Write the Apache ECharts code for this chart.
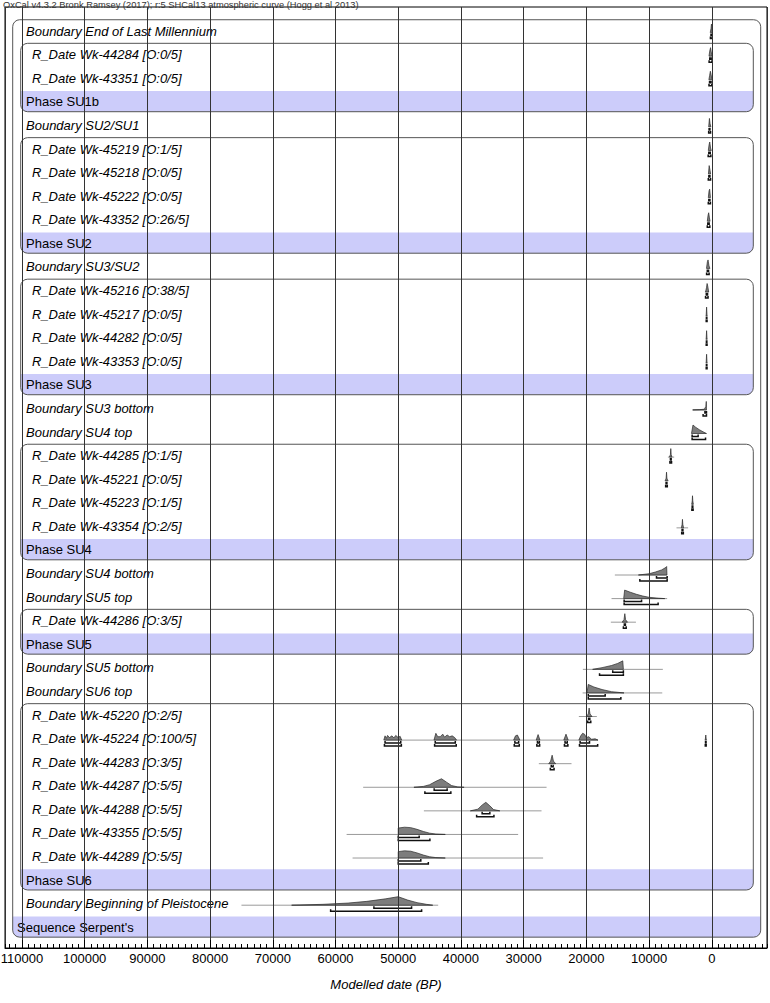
<!DOCTYPE html>
<html><head><meta charset="utf-8">
<script src="https://cdn.jsdelivr.net/npm/echarts@6/dist/echarts.min.js"></script>
<style>html,body{margin:0;padding:0;background:#fff}#c{width:770px;height:1003px}</style>
</head><body><div id="c"></div>
<script>
const FONT = 'Liberation Sans, Arial, Helvetica, sans-serif';
const chartTitle = 'OxCal v4.3.2 Bronk Ramsey (2017); r:5 SHCal13 atmospheric curve (Hogg et al 2013)';
const axisTitle = 'Modelled date (BP)';
const tickLabels = ['110000','100000','90000','80000','70000','60000','50000','40000','30000','20000','10000','0'];

const rowTypes = ['Boundary','R_Date','R_Date','Phase','Boundary','R_Date','R_Date','R_Date','R_Date','Phase',
  'Boundary','R_Date','R_Date','R_Date','R_Date','Phase','Boundary','Boundary','R_Date','R_Date','R_Date','R_Date','Phase',
  'Boundary','Boundary','R_Date','Phase','Boundary','Boundary','R_Date','R_Date','R_Date','R_Date','R_Date','R_Date','R_Date',
  'Phase','Boundary','Sequence'];
const rowNames = ['End of Last Millennium','Wk-44284 [O:0/5]','Wk-43351 [O:0/5]','SU1b','SU2/SU1','Wk-45219 [O:1/5]',
  'Wk-45218 [O:0/5]','Wk-45222 [O:0/5]','Wk-43352 [O:26/5]','SU2','SU3/SU2','Wk-45216 [O:38/5]','Wk-45217 [O:0/5]',
  'Wk-44282 [O:0/5]','Wk-43353 [O:0/5]','SU3','SU3 bottom','SU4 top','Wk-44285 [O:1/5]','Wk-45221 [O:0/5]',
  'Wk-45223 [O:1/5]','Wk-43354 [O:2/5]','SU4','SU4 bottom','SU5 top','Wk-44286 [O:3/5]','SU5','SU5 bottom','SU6 top',
  'Wk-45220 [O:2/5]','Wk-45224 [O:100/5]','Wk-44283 [O:3/5]','Wk-44287 [O:5/5]','Wk-44288 [O:5/5]','Wk-43355 [O:5/5]',
  'Wk-44289 [O:5/5]','SU6','Beginning of Pleistocene',"Serpent's"];

// rounded group boxes: [first row, last row]
const phaseBoxes = [[1,3],[5,9],[11,15],[18,22],[25,26],[29,36]];
const sequenceBoxes = [[0,38]];

// likelihood / prior extent lines: [row, from BP, to BP]
const likelihoodLines = [[11,1100,500],[12,1000,650],[13,1000,650],[14,1000,650],[16,3050,850],
  [18,7000,6000],[19,7500,6900],[20,3240,2920],[21,5630,3780],[23,15460,7170],[24,15990,7120],
  [25,16100,12100],[27,20560,7810],[28,20600,7900],[29,21200,18330],[30,52130,18130],[30,1150,750],
  [31,27580,22370],[32,55590,26350],[33,45910,27150],[34,58230,30880],[35,57280,26900],[37,75000,43630]];

// posterior distributions: row and [BP, relative probability] points
const postRows = [0,1,2,4,5,6,7,8,10,11,12,13,14,16,17,18,19,20,21,23,24,25,27,28,29,30,30,30,30,30,30,30,31,32,33,34,35,37];
const postPoints = [
  [[250,0],[120,0.5],[60,1],[0,0.7],[-60,0]],
  [[450,0],[330,0.6],[200,1],[90,0.5],[-40,0]],
  [[470,0],[350,0.5],[230,1],[110,0.6],[-20,0]],
  [[500,0],[380,1],[280,0.4],[150,0]],
  [[560,0],[430,0.7],[330,1],[200,0.3],[80,0]],
  [[540,0],[420,1],[320,0.6],[190,0]],
  [[560,0],[440,0.8],[340,1],[220,0]],
  [[720,0],[600,0.7],[500,1],[380,0.4],[280,0]],
  [[850,0],[700,0.8],[600,1],[450,0.3],[300,0]],
  [[1000,0],[850,0.5],[750,1],[650,0.7],[500,0]],
  [[900,0],[830,1],[760,0]],
  [[900,0],[830,1],[760,0]],
  [[900,0],[830,1],[760,0]],
  [[3050,0],[2000,0.03],[1200,0.08],[950,0.4],[880,1],[850,0]],
  [[3240,0],[3000,1],[2600,0.75],[2000,0.45],[1400,0.2],[850,0]],
  [[6750,0],[6600,0.3],[6540,1],[6480,0.3],[6350,0]],
  [[7420,0],[7280,0.3],[7220,1],[7160,0.3],[7020,0]],
  [[3200,0],[3120,0.4],[3080,1],[3030,0.4],[2950,0]],
  [[4850,0],[4740,0.4],[4680,1],[4620,0.4],[4500,0]],
  [[11700,0],[10000,0.15],[9000,0.35],[8000,0.6],[7300,0.9],[7200,1],[7150,0]],
  [[14050,0],[13900,1],[13000,0.75],[12000,0.5],[11000,0.3],[10000,0.15],[8500,0.05],[7500,0]],
  [[14300,0],[14000,0.3],[13870,1],[13750,0.3],[13450,0]],
  [[19000,0],[17500,0.2],[16000,0.45],[15000,0.7],[14200,1],[14100,0]],
  [[19900,0],[19700,1],[18800,0.7],[17500,0.4],[16000,0.15],[14000,0]],
  [[20000,0],[19700,0.3],[19560,1],[19420,0.3],[19100,0]],
  [[52300,0],[52100,0.5],[51900,0.2],[51700,0.55],[51400,0.3],[51000,0.5],[50700,0.25],[50400,0.55],[50000,0.3],[49700,0.45],[49450,0]],
  [[44300,0],[44000,0.8],[43700,0.4],[43300,0.4],[42900,0.7],[42600,0.35],[42200,0.6],[41800,0.4],[41400,0.5],[41000,0.3],[40700,0]],
  [[31600,0],[31300,0.5],[31000,0.6],[30600,0]],
  [[28000,0],[27700,0.65],[27400,0]],
  [[23600,0],[23250,0.7],[22900,0]],
  [[21200,0],[20900,0.5],[20600,0.8],[20300,0.7],[20000,0.3],[19600,0.4],[19200,0.1],[18600,0.15],[18150,0]],
  [[1050,0],[960,0.6],[880,0]],
  [[26000,0],[25700,0.3],[25460,1],[25250,0.3],[24900,0]],
  [[47500,0],[46000,0.1],[45000,0.3],[44000,0.7],[43100,1],[42300,0.6],[41500,0.2],[40500,0.04],[39500,0]],
  [[38500,0],[37300,0.2],[36600,0.7],[36030,1],[35400,0.6],[34800,0.15],[33800,0]],
  [[50000,0],[50000,0.75],[49000,0.85],[48000,0.8],[47000,0.6],[46000,0.35],[45000,0.15],[44000,0.05],[42500,0]],
  [[50000,0],[50000,0.75],[49000,0.85],[48000,0.8],[47000,0.6],[46000,0.35],[45000,0.15],[44000,0.05],[42500,0]],
  [[67000,0],[62000,0.1],[58000,0.25],[55000,0.45],[52000,0.75],[50000,1],[48500,0.6],[47000,0.3],[45500,0.1],[44500,0]]
];

// highest posterior density ranges: [row, from BP, to BP]
const range68 = [[0,130,-20],[1,330,100],[2,360,120],[4,430,300],[5,480,250],[6,470,300],[7,480,300],[8,640,420],
  [10,720,520],[11,880,680],[12,860,790],[13,860,790],[14,860,790],[16,1100,850],[17,3140,2180],
  [18,6600,6480],[19,7290,7160],[20,3130,3030],[21,4740,4610],[23,8820,7120],[24,13980,11200],[25,13950,13780],
  [27,15800,14100],[28,19700,17000],[29,19650,19450],
  [30,52100,49600],[30,44100,40900],[30,31400,30800],[30,27800,27500],[30,23400,23050],[30,21000,19500],[30,1000,920],
  [31,25600,25300],[32,44270,42200],[33,36620,35390],[34,50000,46660],[35,50000,46400],[37,53880,47870]];
const range95 = [[0,220,-55],[1,430,-20],[2,450,0],[4,500,200],[5,580,150],[6,560,200],[7,560,220],[8,720,320],
  [10,830,430],[11,1000,600],[12,890,760],[13,890,760],[14,890,760],[16,1390,850],[17,3140,1000],
  [18,6680,6420],[19,7360,7100],[20,3180,2980],[21,4800,4540],[23,11480,7120],[24,13980,8560],[25,14100,13650],
  [27,17900,14100],[28,19700,14500],[29,19800,19300],
  [30,52200,49500],[30,44200,40750],[30,31500,30700],[30,27900,27450],[30,23500,22950],[30,21100,18200],[30,1040,900],
  [31,25750,25150],[32,45750,41610],[33,37500,34740],[34,50000,44950],[35,50000,45200],[37,60780,46270]];

const chart = echarts.init(document.getElementById('c'), null, {renderer: 'svg'});
const H = 8.5;      // px height of a full-probability peak
const BASE = 2;     // baseline offset below row centre (px)

function rowH(api) { return Math.abs(api.size([0, 1])[1]); }

function boxRender(spans, padL, padR, fill) {
  return function (params, api) {
    const cs = params.coordSys;
    const s = spans[params.dataIndex];
    const rh = rowH(api);
    const x1 = cs.x + padL, x2 = cs.x + cs.width - padR;
    const yTop = api.coord([0, s[0]])[1] - 0.46 * rh;
    const yBandTop = api.coord([0, s[1]])[1] - 0.44 * rh;
    const yBot = api.coord([0, s[1]])[1] + 0.44 * rh;
    return {
      type: 'group',
      children: [
        {type: 'rect', shape: {x: x1, y: yBandTop, width: x2 - x1, height: yBot - yBandTop, r: [0, 0, 7, 7]},
         style: {fill: fill}},
        {type: 'rect', shape: {x: x1, y: yTop, width: x2 - x1, height: yBot - yTop, r: 7},
         style: {fill: 'none', stroke: '#555', lineWidth: 1}}
      ]
    };
  };
}

function labelRender(params, api) {
  const cs = params.coordSys;
  const i = params.dataIndex;
  const t = rowTypes[i];
  const y = api.coord([0, i])[1];
  const off = {Boundary: 21, R_Date: 27, Phase: 21, Sequence: 12}[t];
  const italic = (t === 'Boundary' || t === 'R_Date');
  return {
    type: 'text',
    style: {text: t + ' ' + rowNames[i], x: cs.x + off, y: y + 0.5, fill: '#000',
      font: (italic ? 'italic ' : '') + '13px ' + FONT, verticalAlign: 'middle', align: 'left'}
  };
}

function lineRender(params, api) {
  const r = api.value(0);
  const a = api.coord([api.value(1), r]);
  const b = api.coord([api.value(2), r]);
  return {type: 'line', shape: {x1: a[0], y1: a[1] + BASE, x2: b[0], y2: b[1] + BASE},
    style: {stroke: '#9a9a9a', lineWidth: 1}};
}

function postRender(params, api) {
  const idx = api.value(2);
  const r = api.value(1);
  const pts = postPoints[idx].map(p => {
    const c = api.coord([p[0], r]);
    return [c[0], c[1] + BASE - p[1] * H];
  });
  return {type: 'polygon', shape: {points: pts},
    style: {fill: '#7d7d7d', stroke: '#2a2a2a', lineWidth: 0.7}};
}

function barRender(dy) {
  return function (params, api) {
    const r = api.value(0);
    const a = api.coord([api.value(1), r]);
    const b = api.coord([api.value(2), r]);
    const y = a[1] + BASE + dy;
    return {type: 'polyline', shape: {points: [[a[0], y - 2], [a[0], y], [b[0], y], [b[0], y - 2]]},
      style: {stroke: '#111', lineWidth: 1.5, fill: 'none'}};
  };
}

const xMin = -8800, xMax = 112700;
const gridBox = {left: 5, right: 3, top: 7, bottom: 55, containLabel: false, outerBoundsMode: 'none'};

chart.setOption({
  animation: false,
  backgroundColor: '#fff',
  title: {text: chartTitle, left: 3, top: 0, padding: 0,
    textStyle: {fontSize: 9.3, lineHeight: 9, fontWeight: 'normal', color: '#333', fontFamily: FONT}},
  grid: [
    Object.assign({show: true, borderColor: '#000', borderWidth: 1}, gridBox),
    Object.assign({show: false}, gridBox)
  ],
  xAxis: [
    {type: 'value', gridIndex: 0, inverse: true, min: xMin, max: xMax, minInterval: 10000, maxInterval: 10000, splitNumber: 12,
     position: 'bottom', z: 10,
     axisLine: {show: true, onZero: false, lineStyle: {color: '#000', width: 1}},
     axisTick: {show: true, inside: true, length: 8, lineStyle: {color: '#000', width: 1}},
     axisLabel: {show: true, showMinLabel: false, showMaxLabel: false, color: '#000', fontSize: 13, fontFamily: FONT, margin: 4,
       formatter: v => tickLabels.indexOf(String(v)) >= 0 ? String(v) : ''},
     splitLine: {show: true, lineStyle: {color: '#333', width: 1}},
     name: axisTitle, nameLocation: 'middle', nameGap: 30,
     nameTextStyle: {fontStyle: 'italic', fontSize: 13, color: '#000', fontFamily: FONT}},
    {type: 'value', gridIndex: 1, inverse: true, min: xMin, max: xMax, minInterval: 1000, maxInterval: 1000, splitNumber: 120,
     position: 'bottom', z: 10,
     axisLine: {show: false, onZero: false}, axisTick: {show: true, inside: true, length: 4, lineStyle: {color: '#000', width: 1}},
     axisLabel: {show: false}, splitLine: {show: false}}
  ],
  yAxis: [
    {type: 'value', gridIndex: 0, inverse: true, min: -1, max: 38.9, show: false, splitLine: {show: false}},
    {type: 'value', gridIndex: 1, inverse: true, min: -1, max: 38.9, show: false, splitLine: {show: false}}
  ],
  series: [
    {type: 'custom', name: 'sequence', z: 1, renderItem: boxRender(sequenceBoxes, 7.7, 6.3, '#ccccfa'),
     data: sequenceBoxes.map(s => [0, s[0]]), encode: {x: 0, y: 1}, silent: true},
    {type: 'custom', name: 'phases', z: 1.5, renderItem: boxRender(phaseBoxes, 15.7, 13.7, '#ccccfa'),
     data: phaseBoxes.map(s => [0, s[0]]), encode: {x: 0, y: 1}, silent: true},
    {type: 'custom', name: 'labels', z: 4, renderItem: labelRender,
     data: rowTypes.map((t, i) => [0, i]), encode: {x: 0, y: 1}, silent: true},
    {type: 'custom', name: 'likelihood', z: 3, renderItem: lineRender,
     data: likelihoodLines, encode: {x: [1, 2], y: 0}, silent: true},
    {type: 'custom', name: 'posterior', z: 3.5, renderItem: postRender,
     data: postRows.map((r, i) => [postPoints[i][0][0], r, i]), encode: {x: 0, y: 1}, silent: true},
    {type: 'custom', name: '68.2%', z: 3.6, renderItem: barRender(3),
     data: range68, encode: {x: [1, 2], y: 0}, silent: true},
    {type: 'custom', name: '95.4%', z: 3.6, renderItem: barRender(6),
     data: range95, encode: {x: [1, 2], y: 0}, silent: true}
  ]
});
</script></body></html>
